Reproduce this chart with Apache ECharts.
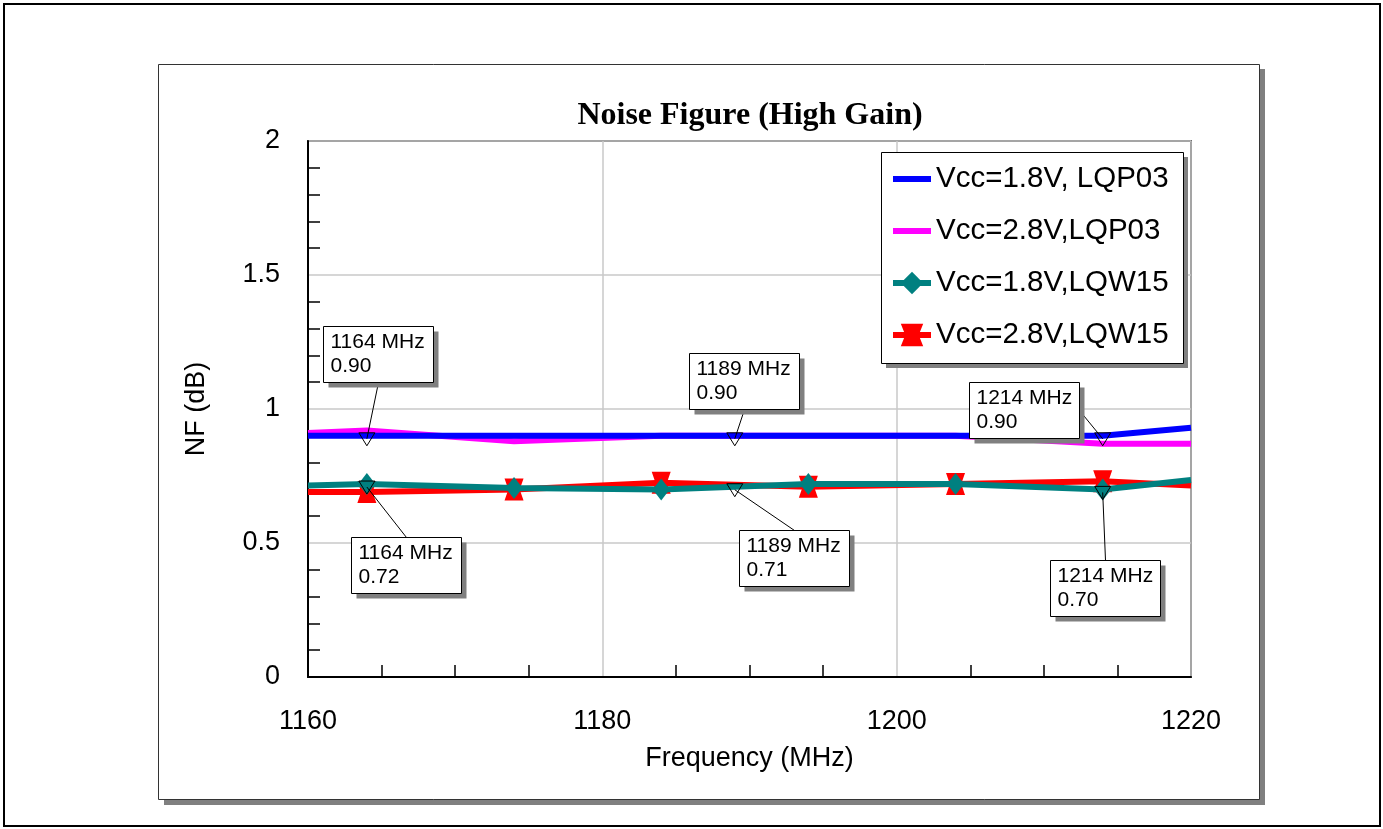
<!DOCTYPE html>
<html>
<head>
<meta charset="utf-8">
<script src="https://cdn.jsdelivr.net/npm/echarts@6/dist/echarts.min.js"></script>
<style>
html,body{margin:0;padding:0;background:#fff;}
#chart{width:1383px;height:829px;}
</style>
</head>
<body>
<div id="chart"></div>
<script>
// ---- data ----
const freqs      = [1160, 1164, 1174, 1184, 1194, 1204, 1214, 1220];
const nf18LQP03  = [0.90, 0.90, 0.90, 0.90, 0.90, 0.90, 0.90, 0.93];
const nf28LQP03  = [0.91, 0.92, 0.88, 0.90, 0.90, 0.90, 0.87, 0.87];
const nf18LQW15  = [0.715, 0.72, 0.705, 0.70, 0.72, 0.72, 0.70, 0.735];
const nf28LQW15  = [0.69, 0.69, 0.70, 0.725, 0.71, 0.72, 0.73, 0.715];
const seriesNames = ['Vcc=1.8V, LQP03', 'Vcc=2.8V,LQP03', 'Vcc=1.8V,LQW15', 'Vcc=2.8V,LQW15'];
const markerFreqs  = [1164, 1189, 1214, 1164, 1189, 1214];
const markerValues = [0.90, 0.90, 0.90, 0.72, 0.71, 0.70];
const chartTitle = 'Noise Figure (High Gain)';

// ---- layout of annotation boxes (pixel offsets from the marked point) ----
const annoLayout = [
  {dx: -44,  dy: -110, side: 'bottom'},
  {dx: -46,  dy: -83,  side: 'bottom'},
  {dx: -134, dy: -54,  side: 'right'},
  {dx: -16,  dy: 53,   side: 'top'},
  {dx: 4,    dy: 43,   side: 'top'},
  {dx: -53,  dy: 71,   side: 'top'}
];

const SANS = '"Liberation Sans", Arial, sans-serif';
const SERIF = '"Liberation Serif", "Times New Roman", serif';

function build(vals) {
  const last = vals.length - 1;
  return freqs.map((f, i) => {
    const item = {value: [f, vals[i]]};
    if (i === 0 || i === last) item.symbol = 'none';
    return item;
  });
}

const spool = 'path://M0,0 L10,0 L8,5 L10,10 L0,10 L2,5 Z';
const lineIcon = 'path://M0,0 L38,0 L38,6 L0,6 Z';

const chart = echarts.init(document.getElementById('chart'), null, {renderer: 'canvas'});

const option = {
  backgroundColor: '#fff',
  animation: false,
  graphic: [
    {type: 'rect', z: -10, shape: {x: 4, y: 4, width: 1376, height: 822},
     style: {fill: '#fff', stroke: '#000', lineWidth: 2}},
    {type: 'rect', z: -9, shape: {x: 164, y: 69, width: 1101, height: 736},
     style: {fill: '#808080'}},
    {type: 'rect', z: -8, shape: {x: 158.5, y: 64.5, width: 1101, height: 735},
     style: {fill: '#fff', stroke: '#333', lineWidth: 1}},
    {type: 'text', z: 10, style: {
      x: 750, y: 116, text: chartTitle, textAlign: 'center', textVerticalAlign: 'middle',
      font: 'bold 32px ' + SERIF, fill: '#000'}},
    {type: 'rect', z: 90, shape: {x: 886, y: 157, width: 302, height: 211},
     style: {fill: '#808080'}},
    {type: 'rect', z: 91, shape: {x: 881.5, y: 152.5, width: 302, height: 211},
     style: {fill: '#fff', stroke: '#000', lineWidth: 1}}
  ],
  legend: {
    orient: 'vertical',
    left: 881,
    top: 152,
    z: 100,
    padding: [12, 11, 12, 9],
    itemGap: 22,
    itemWidth: 38,
    itemHeight: 28,
    backgroundColor: 'transparent',
    borderWidth: 0,
    lineStyle: {width: 6},
    textStyle: {fontFamily: SANS, fontSize: 29.5, color: '#000', lineHeight: 30},
    data: [
      {name: seriesNames[0], icon: lineIcon},
      {name: seriesNames[1], icon: lineIcon},
      {name: seriesNames[2]},
      {name: seriesNames[3]}
    ]
  },
  grid: {
    left: 308, top: 141, right: 192, bottom: 152,
    show: true, borderColor: '#000', borderWidth: 1.5, backgroundColor: 'transparent'
  },
  xAxis: {
    type: 'value',
    min: 1160, max: 1220, interval: 20,
    name: 'Frequency (MHz)',
    nameLocation: 'middle',
    nameGap: 68,
    nameTextStyle: {fontFamily: SANS, fontSize: 27, color: '#000'},
    axisLine: {lineStyle: {color: '#000', width: 2}},
    axisTick: {show: false, inside: true},
    minorTick: {show: true, splitNumber: 4, length: 12, lineStyle: {color: '#000', width: 1.5}},
    axisLabel: {fontFamily: SANS, fontSize: 27, color: '#000', margin: 31,
                formatter: function (v) { return String(v); }},
    splitLine: {show: true, lineStyle: {color: '#c8c8c8', width: 1.5}}
  },
  yAxis: {
    type: 'value',
    min: 0, max: 2, interval: 0.5,
    name: 'NF (dB)',
    nameLocation: 'middle',
    nameGap: 98,
    nameRotate: 90,
    nameTextStyle: {fontFamily: SANS, fontSize: 27, color: '#000'},
    axisLine: {show: true, lineStyle: {color: '#000', width: 2}},
    axisTick: {show: false, inside: true},
    minorTick: {show: true, splitNumber: 5, length: 12, lineStyle: {color: '#000', width: 1.5}},
    axisLabel: {fontFamily: SANS, fontSize: 27, color: '#000', margin: 28},
    splitLine: {show: true, lineStyle: {color: '#c8c8c8', width: 1.5}}
  },
  series: [
    {
      name: seriesNames[0], type: 'line', z: 3, data: build(nf18LQP03),
      symbol: 'none', color: '#0000ff',
      lineStyle: {color: '#0000ff', width: 6}
    },
    {
      name: seriesNames[1], type: 'line', z: 2, data: build(nf28LQP03),
      symbol: 'none', color: '#ff00ff',
      lineStyle: {color: '#ff00ff', width: 6}
    },
    {
      name: seriesNames[2], type: 'line', z: 5, data: build(nf18LQW15),
      symbol: 'diamond', symbolSize: [17, 22], color: '#008080',
      itemStyle: {color: '#008080'},
      lineStyle: {color: '#008080', width: 6}
    },
    {
      name: seriesNames[3], type: 'line', z: 4, data: build(nf28LQW15),
      symbol: spool, symbolSize: [19, 22], color: '#ff0000',
      itemStyle: {color: '#ff0000'},
      lineStyle: {color: '#ff0000', width: 6}
    },
    {
      type: 'custom', z: 20, clip: false, silent: true,
      data: markerFreqs.map((f, i) => [f, markerValues[i]]),
      renderItem: function (params, api) {
        const f = api.value(0), v = api.value(1);
        const p = api.coord([f, v]);
        const px = p[0], py = p[1];
        const lay = annoLayout[params.dataIndex];
        const bw = 110, bh = 56;
        const bx = Math.round(px + lay.dx) + 0.5, by = Math.round(py + lay.dy) + 0.5;
        let ax, ay;
        if (lay.side === 'bottom') { ax = bx + bw / 2; ay = by + bh; }
        else if (lay.side === 'top') { ax = bx + bw / 2; ay = by; }
        else { ax = bx + bw; ay = by + bh / 2; }
        return {
          type: 'group',
          children: [
            {type: 'line', shape: {x1: ax, y1: ay, x2: px, y2: py + 3},
             style: {stroke: '#000', lineWidth: 1}},
            {type: 'polygon', shape: {points: [[px - 8, py - 3], [px + 8, py - 3], [px, py + 10]]},
             style: {fill: 'none', stroke: '#000', lineWidth: 1}},
            {type: 'rect', shape: {x: bx + 5, y: by + 5, width: bw, height: bh},
             style: {fill: '#808080'}},
            {type: 'rect', shape: {x: bx, y: by, width: bw, height: bh},
             style: {fill: '#fff', stroke: '#000', lineWidth: 1}},
            {type: 'text', style: {
              x: bx + 7, y: by + 4,
              text: f + ' MHz\n' + v.toFixed(2),
              font: '21px ' + SANS, fill: '#000', lineHeight: 24,
              textVerticalAlign: 'top'
            }}
          ]
        };
      }
    }
  ]
};
chart.setOption(option);
</script>
</body>
</html>
